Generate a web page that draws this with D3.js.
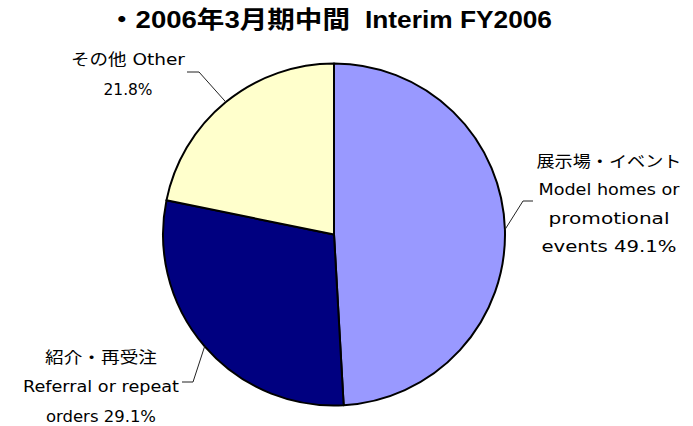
<!DOCTYPE html>
<html><head><meta charset="utf-8">
<script src="https://cdn.jsdelivr.net/npm/d3@7"></script>
<style>body{margin:0;background:#fff}svg{display:block}</style>
</head><body>
<svg id="c" width="693" height="426"></svg>
<script>
const titleParts = ["・2006年3月期中間", "Interim FY2006"];
const categories = ["Model homes", "Referral", "Other"];
const values = [49.1, 29.1, 21.8];
const colors = ["#9999FF", "#000080", "#FFFFCC"];
const labelLines = [
  ["展示場・イベント", "Model homes or", "promotional", "events 49.1%"],
  ["紹介・再受注", "Referral or repeat", "orders 29.1%"],
  ["その他 Other", "21.8%"]
];

const W = 693, H = 426;
const cx = 334, cy = 234.5, R = 171;
const labelFont = "'DejaVu Sans', 'Noto Sans CJK JP', sans-serif";
const titleFont = "'Liberation Sans', 'Noto Sans CJK JP', sans-serif";
const svg = d3.select("#c");

// title layout: [x, width]
const titleLayout = [[108, 242], [365, 187]];
const titleText = svg.append("text").attr("y", 28)
  .attr("font-family", titleFont).attr("font-weight", "bold").attr("font-size", 24);
titleParts.forEach((t, i) => {
  titleText.append("tspan").attr("x", titleLayout[i][0])
    .attr("textLength", titleLayout[i][1]).attr("lengthAdjust", "spacingAndGlyphs")
    .text(t);
});

const pie = d3.pie().sort(null).value(d => d)(values);
const arc = d3.arc().innerRadius(0).outerRadius(R);
const g = svg.append("g").attr("transform", `translate(${cx},${cy})`);
g.selectAll("path").data(pie).join("path")
  .attr("d", arc).attr("fill", (d, i) => colors[i])
  .attr("stroke", "#000").attr("stroke-width", 2).attr("stroke-linejoin", "round");

// label layout (positions only)
const layout = [
  {elbow: [523, 201], end: [533, 201], tx: 609, ty: [167, 195, 224, 252], w: [145, 141, 121, 135]},
  {elbow: [193, 382], end: [182, 382], tx: 101, ty: [363, 392, 422], w: [112, 156, 110]},
  {elbow: [199, 72],  end: [187, 72],  tx: 128, ty: [65, 95], w: [114, 49]}
];
pie.forEach((d, i) => {
  const a = (d.startAngle + d.endAngle) / 2;
  const px = cx + R * Math.sin(a), py = cy - R * Math.cos(a);
  const L = layout[i];
  svg.append("polyline")
    .attr("points", [[px, py], L.elbow, L.end].map(p => p.join(",")).join(" "))
    .attr("fill", "none").attr("stroke", "#222").attr("stroke-width", 1);
  labelLines[i].forEach((t, j) => {
    svg.append("text").attr("x", L.tx - L.w[j] / 2).attr("y", L.ty[j])
      .attr("font-family", labelFont).attr("font-size", 16).attr("fill", "#000")
      .attr("textLength", L.w[j]).attr("lengthAdjust", "spacingAndGlyphs")
      .text(t);
  });
});
</script>
</body></html>
